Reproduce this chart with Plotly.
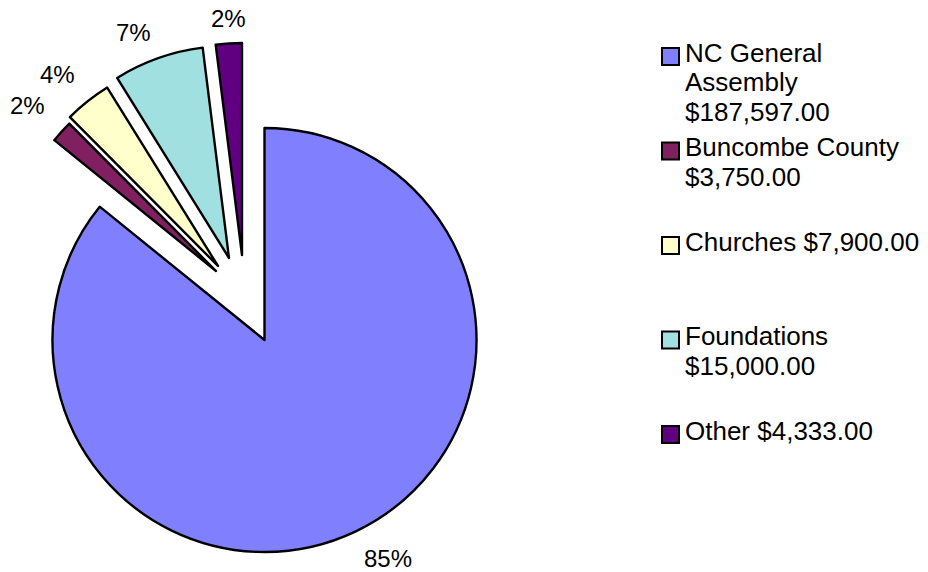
import plotly.graph_objects as go

# ---- data ----
categories = ["NC General Assembly", "Buncombe County", "Churches", "Foundations", "Other"]
amounts = [187597.00, 3750.00, 7900.00, 15000.00, 4333.00]
percent_labels = ["85%", "2%", "4%", "7%", "2%"]
legend_lines = [
    ["NC General", "Assembly", "$187,597.00"],
    ["Buncombe County", "$3,750.00"],
    ["Churches $7,900.00"],
    ["Foundations", "$15,000.00"],
    ["Other $4,333.00"],
]

# ---- style / layout ----
colors = ["#8080FF", "#802060", "#FFFFCC", "#A0E0E0", "#600080"]
W, H = 928, 572
OFF = 8  # page body margin: figure origin sits at (8, 8) in the window
R = 212
# centre of each (exploded) slice, in window pixels from top-left
centers = [(264.5, 340), (212, 271), (216, 266), (229, 258), (242, 255)]
label_pos = [(388, 558), (27, 105), (57, 75), (133, 32), (228, 18)]
FONT = "Liberation Sans, Arial, sans-serif"


def px(x):
    return (x - OFF) / W


def py(y):
    return 1 - (y - OFF) / H


fig = go.Figure()
n = len(categories)
for i in range(n):
    cx, cy = centers[i]
    fill = [colors[j] if j == i else "rgba(0,0,0,0)" for j in range(n)]
    lw = [2.4 if j == i else 0 for j in range(n)]
    fig.add_trace(go.Pie(
        labels=categories,
        values=amounts,
        sort=False,
        direction="clockwise",
        rotation=0,
        marker=dict(colors=fill, line=dict(color="black", width=lw)),
        textinfo="none",
        showlegend=False,
        hoverinfo="label+value+percent",
        domain=dict(x=[max(0.0, px(cx - R)), min(1.0, px(cx + R))],
                    y=[max(0.0, py(cy + R)), min(1.0, py(cy - R))]),
    ))

annotations = []
shapes = []
# percentage labels
for i in range(n):
    x, y = label_pos[i]
    annotations.append(dict(
        x=px(x), y=py(y), xref="paper", yref="paper",
        text=percent_labels[i], showarrow=False,
        xanchor="center", yanchor="middle", borderpad=0,
        font=dict(family=FONT, size=24, color="black"),
    ))

# legend
LFS = 26
leg_base0 = 62
item_step = 94.5
line_step = 29.3
sq_x0, sq_x1 = 662, 679
txt_x = 683
for i in range(n):
    base = leg_base0 + i * item_step
    shapes.append(dict(
        type="rect", xref="paper", yref="paper",
        x0=px(sq_x0), x1=px(sq_x1),
        y0=py(base + 3), y1=py(base - 14),
        fillcolor=colors[i], line=dict(color="black", width=2),
    ))
    for k, line in enumerate(legend_lines[i]):
        b = base + k * line_step
        annotations.append(dict(
            x=px(txt_x), y=py(b - 0.3465 * LFS), xref="paper", yref="paper",
            text=line, showarrow=False, xanchor="left", yanchor="middle",
            font=dict(family=FONT, size=LFS, color="black"),
        ))

fig.update_layout(
    width=W, height=H,
    margin=dict(l=0, r=0, t=0, b=0),
    paper_bgcolor="white", plot_bgcolor="white",
    showlegend=False,
    annotations=annotations,
    shapes=shapes,
)

fig.write_html("out.html")
